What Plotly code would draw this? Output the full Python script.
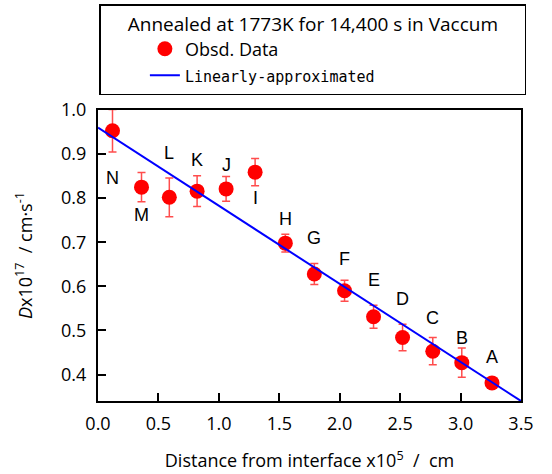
import plotly.graph_objects as go

# Data
labels = ["N", "M", "L", "K", "J", "I", "H", "G", "F", "E", "D", "C", "B", "A"]
dist = [0.12, 0.36, 0.59, 0.82, 1.06, 1.30, 1.55, 1.79, 2.04, 2.28, 2.52, 2.77, 3.01, 3.26]
diff = [0.953, 0.825, 0.802, 0.816, 0.821, 0.859, 0.698, 0.628, 0.590, 0.531, 0.484, 0.453, 0.427, 0.381]
err = [0.048, 0.033, 0.044, 0.035, 0.028, 0.031, 0.020, 0.024, 0.024, 0.026, 0.030, 0.031, 0.033, 0.010]
fit_x = [0.0, 3.5]
fit_y = [0.960, 0.340]
x_ticks = [0.0, 0.5, 1.0, 1.5, 2.0, 2.5, 3.0, 3.5]
y_ticks = [0.4, 0.5, 0.6, 0.7, 0.8, 0.9, 1.0]

# label pixel offsets (positive = up)
label_shift = [-47, -28, 44, 31, 24, -26, 24, 36, 32, 37, 39, 33, 25, 26]

fig = go.Figure()
fig.add_trace(go.Scatter(
    x=dist, y=diff, mode="markers", name="Obsd. Data",
    marker=dict(color="#ff0000", size=15),
    error_y=dict(type="data", array=err, color="#ff4d4d", thickness=1.5, width=4),
))
fig.add_trace(go.Scatter(
    x=fit_x, y=fit_y, mode="lines",
    name='<span style="font-family:\'DejaVu Sans Mono\'; font-size:15px">Linearly-approximated</span>',
    line=dict(color="#0000ff", width=2),
))

for lab, xx, yy, sh in zip(labels, dist, diff, label_shift):
    fig.add_annotation(x=xx, y=yy, text=lab, showarrow=False, yshift=sh,
                       font=dict(family="Liberation Sans", size=18, color="black"))

axis_common = dict(showline=True, linecolor="black", linewidth=2, mirror=True,
                   ticks="inside", ticklen=8, tickwidth=2, tickcolor="black",
                   showgrid=False, zeroline=False,
                   tickfont=dict(family="Open Sans", size=18, color="black"))

pad = "&nbsp;" * 5
fig.update_layout(
    width=552, height=474,
    margin=dict(l=98, r=31, t=110, b=73, autoexpand=False),
    plot_bgcolor="white", paper_bgcolor="white",
    font=dict(family="Open Sans", size=18, color="black"),
    xaxis=dict(range=[0, 3.5], tickvals=x_ticks, ticktext=[f"{v:.1f}" for v in x_ticks],
               ticklabelstandoff=5,
               title=dict(text="Distance from interface x10<sup>5</sup>  /  cm",
                          font=dict(family="Open Sans", size=18), standoff=21),
               **axis_common),
    yaxis=dict(range=[0.34, 1.0], tickvals=y_ticks, ticktext=[f"{v:.1f}" for v in y_ticks],
               ticklabelstandoff=6,
               title=dict(text="<i>D</i>x10<sup>17</sup>  / cm·s<sup>-1</sup>",
                          font=dict(family="Open Sans", size=18), standoff=24),
               **axis_common),
    showlegend=True,
    legend=dict(
        title=dict(text=pad + "Annealed at 1773K for 14,400 s in Vaccum" + pad,
                   font=dict(family="Open Sans", size=19), side="top center"),
        x=0.508, xanchor="center", y=1.363, yanchor="top",
        bordercolor="black", borderwidth=1.5, bgcolor="white",
        font=dict(family="Open Sans", size=18),
        itemwidth=30, indentation=44,
    ),
)

fig.write_html("out.html")
